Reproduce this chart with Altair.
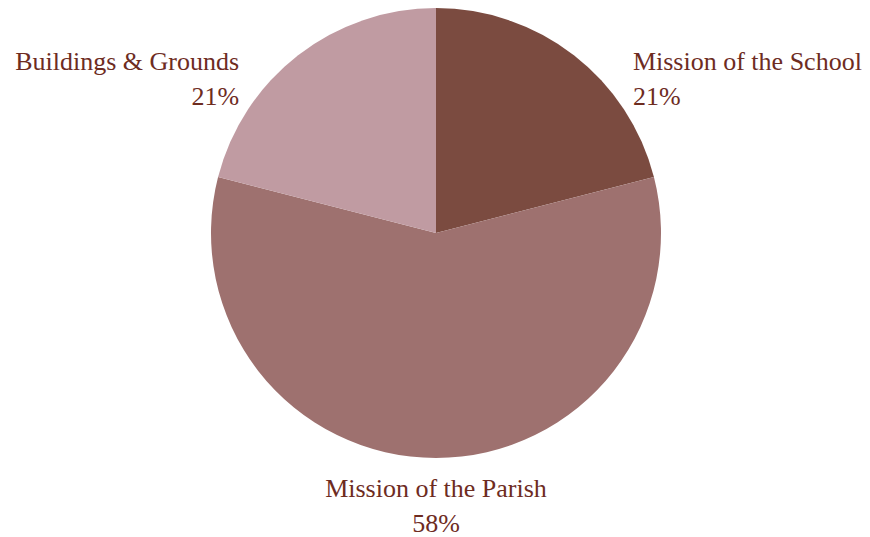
import altair as alt
import pandas as pd

names = ["Mission of the School", "Mission of the Parish", "Buildings & Grounds"]
values = [21, 58, 21]
order = [0, 1, 2]
colors = ["#7b4b40", "#9e716f", "#c09ba2"]

df = pd.DataFrame({
    "name": names,
    "value": values,
    "idx": order,
})
df["label"] = [f"{n}\n{v}%" for n, v in zip(names, values)]

base = alt.Chart(df)

pie = base.mark_arc(outerRadius=225, stroke=None).encode(
    theta=alt.Theta("value:Q"),
    color=alt.Color("name:N", scale=alt.Scale(domain=names, range=colors), legend=None),
    order=alt.Order("idx:Q"),
)

text_base = base.transform_window(
    cum="sum(value)", sort=[alt.SortField("idx")], frame=[None, 0]
).transform_calculate(
    mid="datum.cum - datum.value / 2"
)

font = dict(font="Liberation Serif", fontSize=26, color="#6e2c1f",
            lineBreak="\n", lineHeight=35, baseline="alphabetic", radius=225)

t_school = text_base.transform_filter(alt.datum.idx == 0).mark_text(
    align="left", dx=59, dy=15, **font
).encode(theta=alt.Theta("mid:Q", stack=None), text="label:N")

t_parish = text_base.transform_filter(alt.datum.idx == 1).mark_text(
    align="center", dx=0, dy=39, **font
).encode(theta=alt.Theta("mid:Q", stack=None), text="label:N")

t_build = text_base.transform_filter(alt.datum.idx == 2).mark_text(
    align="right", dx=-59, dy=15, **font
).encode(theta=alt.Theta("mid:Q", stack=None), text="label:N")

chart = alt.layer(pie, t_school, t_parish, t_build).properties(
    width=852, height=450,
    autosize=alt.AutoSizeParams(type="none"),
    padding={"left": 2, "top": 0, "right": 0, "bottom": 80},
).configure_view(stroke=None)

chart.save("out.html", embed_options={"renderer": "svg", "actions": False})
